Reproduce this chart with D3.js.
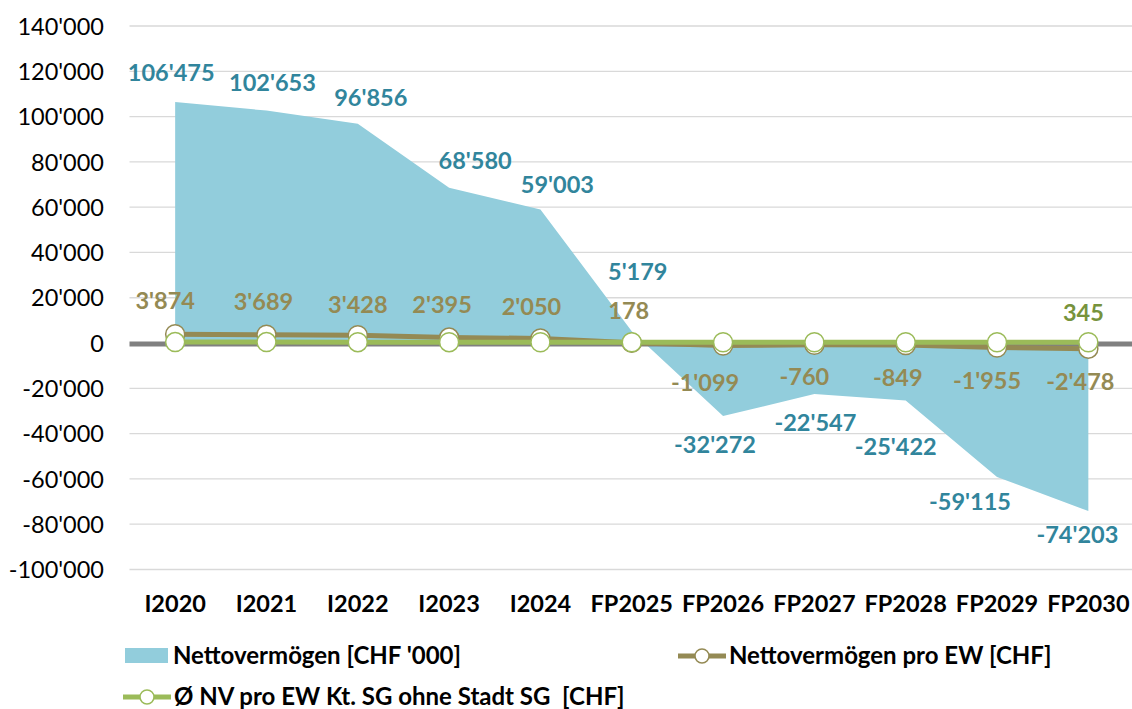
<!DOCTYPE html>
<html>
<head>
<meta charset="utf-8">
<script src="https://cdn.jsdelivr.net/npm/d3@7"></script>
<style>
  body { margin: 0; background: #fff; }
  svg text { font-family: Lato, "Open Sans", sans-serif; }
  .tick text { font-size: 23.5px; fill: #000; }
  .xlab { font-size: 23.5px; font-weight: bold; fill: #000; }
  .lbl { font-size: 23.5px; font-weight: bold; }
  .legend text { font-size: 24px; font-weight: bold; fill: #000; white-space: pre; }
</style>
</head>
<body>
<svg id="chart" width="1132" height="709"></svg>
<script>
const categories = ["I2020", "I2021", "I2022", "I2023", "I2024", "FP2025",
  "FP2026", "FP2027", "FP2028", "FP2029", "FP2030"];
const nettovermoegen = [106475, 102653, 96856, 68580, 59003, 5179,
  -32272, -22547, -25422, -59115, -74203];
const proEW = [3874, 3689, 3428, 2395, 2050, 178, -1099, -760, -849, -1955, -2478];
const kantonEW = [420, 410, 400, 380, 370, 350, 340, 340, 340, 345, 345];
const yTicks = [-100000, -80000, -60000, -40000, -20000, 0, 20000, 40000,
  60000, 80000, 100000, 120000, 140000];

// label nudges (dx, dy of the label centre from its point), as placed in the original
const areaLabelShift = [[-4, -29], [6, -28], [13, -26], [26, -27], [17, -25], [6, -60],
  [-8, 29], [1, 29], [-10, 46], [-27, 25], [-11, 24]];
const ewLabelShift = [[-10, -33], [-3, -33], [0, -31], [-7, -33], [-9, -32], [-3, -32],
  [-18, 37], [-10, 32], [-8, 33], [-10, 33], [-8, 33]];

const col_area = "#92cddc";
const col_area_lbl = "#31859c";
const col_brown = "#948a54";
const col_green = "#9bbb59";
const col_green_lbl = "#77933c";

let svg = d3.select("#chart");

const left = 129.5, right = 1132;

let x = d3.scalePoint()
  .domain(categories)
  .range([left, 1134])
  .padding(0.5);

let y = d3.scaleLinear()
  .domain([-100000, 140000])
  .range([569.5, 26]);

const fmt = d3.formatLocale({
  decimal: ".", thousands: "'", grouping: [3], currency: ["", ""], minus: "-"
}).format(",d");

// gridlines
svg.append("g")
  .selectAll("line")
  .data(yTicks.filter(d => d !== 0))
  .join("line")
  .attr("x1", left)
  .attr("x2", right)
  .attr("y1", d => y(d))
  .attr("y2", d => y(d))
  .attr("stroke", "#d9d9d9")
  .attr("stroke-width", 1.3);

// y axis labels
let yAxis = svg.append("g")
  .attr("transform", "translate(" + 104 + ",0)")
  .call(d3.axisLeft(y).tickValues(yTicks).tickFormat(fmt).tickSize(0).tickPadding(0));
yAxis.select(".domain").remove();
yAxis.selectAll("text").attr("dy", "0.35em");

// area
let area = d3.area()
  .x((d, i) => x(categories[i]))
  .y0(y(0))
  .y1(d => y(d));

svg.append("path")
  .datum(nettovermoegen)
  .attr("d", area)
  .attr("fill", col_area);

// zero line
svg.append("line")
  .attr("x1", left)
  .attr("x2", right)
  .attr("y1", y(0) + 1)
  .attr("y2", y(0) + 1)
  .attr("stroke", "#808080")
  .attr("stroke-width", 5);

// x labels
svg.append("g")
  .selectAll("text")
  .data(categories)
  .join("text")
  .classed("xlab", true)
  .attr("x", d => x(d))
  .attr("y", 604)
  .attr("dy", "0.35em")
  .style("text-anchor", "middle")
  .text(d => d);

let line = d3.line()
  .x((d, i) => x(categories[i]))
  .y(d => y(d));

function series(values, color) {
  let g = svg.append("g");
  g.append("path")
    .datum(values)
    .attr("d", line)
    .attr("fill", "none")
    .attr("stroke", color)
    .attr("stroke-width", 5);
  g.selectAll("circle")
    .data(values)
    .join("circle")
    .attr("cx", (d, i) => x(categories[i]))
    .attr("cy", d => y(d))
    .attr("r", 9.5)
    .attr("fill", "#fff")
    .attr("stroke", color)
    .attr("stroke-width", 1.5);
}

series(proEW, col_brown);
series(kantonEW, col_green);

// data labels
function labels(values, shift, color) {
  svg.append("g")
    .selectAll("text")
    .data(values)
    .join("text")
    .classed("lbl", true)
    .attr("fill", color)
    .attr("x", (d, i) => x(categories[i]) + shift[i][0])
    .attr("y", (d, i) => y(d) + shift[i][1])
    .attr("dy", "0.35em")
    .style("text-anchor", "middle")
    .text(d => fmt(d));
}

labels(nettovermoegen, areaLabelShift, col_area_lbl);
labels(proEW, ewLabelShift, col_brown);

const last = kantonEW.length - 1;
svg.append("text")
  .classed("lbl", true)
  .attr("fill", col_green_lbl)
  .attr("x", x(categories[last]) - 5)
  .attr("y", y(kantonEW[last]) - 29)
  .attr("dy", "0.35em")
  .style("text-anchor", "middle")
  .text(fmt(kantonEW[last]));

// legend
let legend = svg.append("g").classed("legend", true);

legend.append("rect")
  .attr("x", 125)
  .attr("y", 648)
  .attr("width", 43)
  .attr("height", 15)
  .attr("fill", col_area);
legend.append("text")
  .attr("x", 173)
  .attr("y", 656)
  .attr("dy", "0.35em")
  .text("Nettovermögen [CHF '000]");

function legendLine(x0, yc, color, label) {
  legend.append("line")
    .attr("x1", x0)
    .attr("x2", x0 + 48)
    .attr("y1", yc)
    .attr("y2", yc)
    .attr("stroke", color)
    .attr("stroke-width", 5);
  legend.append("circle")
    .attr("cx", x0 + 24)
    .attr("cy", yc)
    .attr("r", 7)
    .attr("fill", "#fff")
    .attr("stroke", color)
    .attr("stroke-width", 1.5);
  legend.append("text")
    .attr("x", x0 + 51)
    .attr("y", yc)
    .attr("dy", "0.35em")
    .text(label);
}

legendLine(678, 656, col_brown, "Nettovermögen pro EW [CHF]");
legendLine(123, 697, col_green, "Ø NV pro EW Kt. SG ohne Stadt SG  [CHF]");
</script>
</body>
</html>
